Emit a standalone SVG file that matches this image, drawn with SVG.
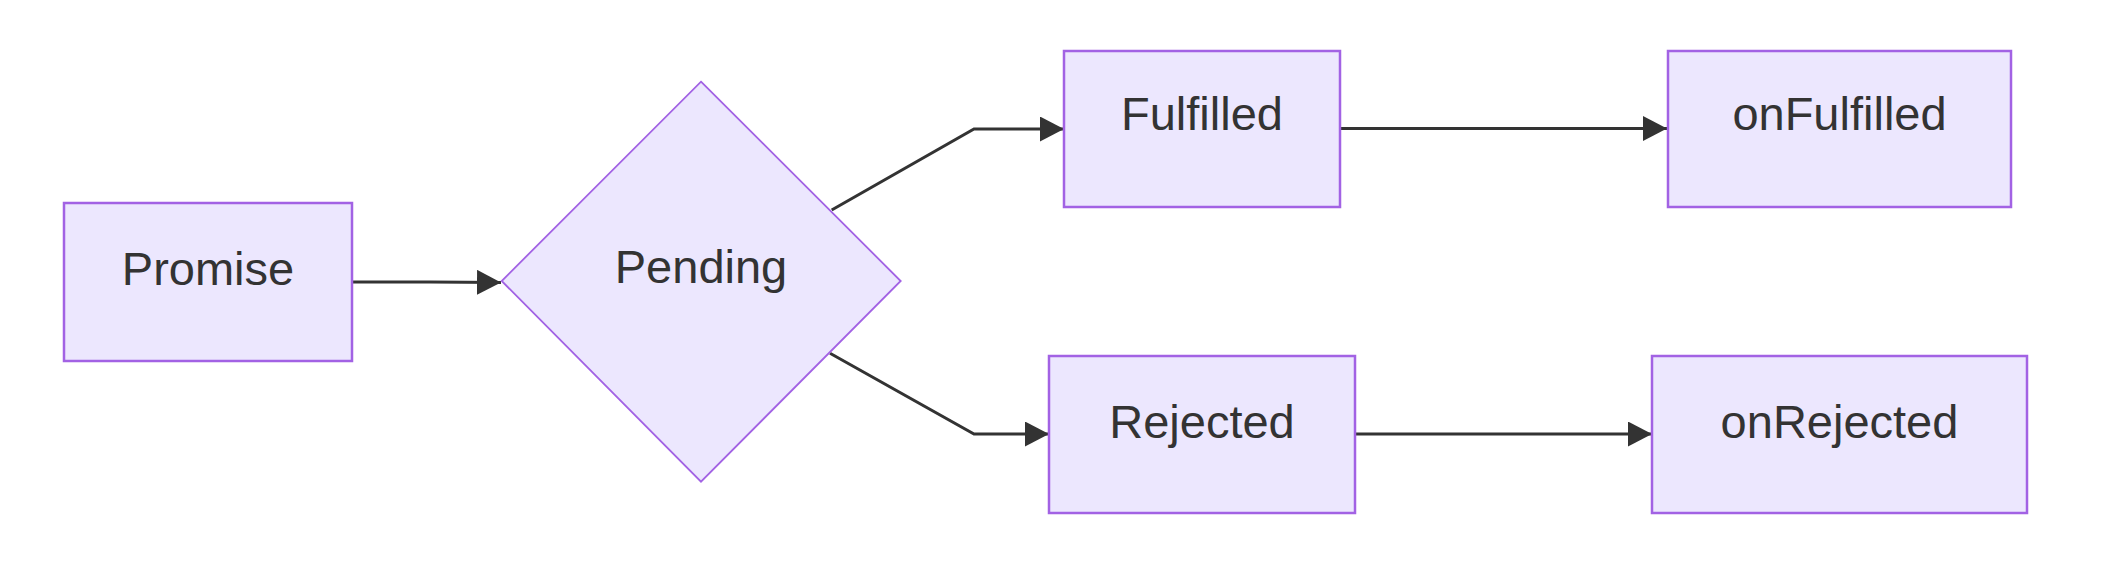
<svg xmlns="http://www.w3.org/2000/svg" width="2128" height="576" viewBox="0 0 2128 576">
<style>
.node rect, .node polygon { fill: #ECE7FE; stroke: #A262E4; }
.node rect { stroke-width: 2.5; }
.node polygon { stroke-width: 1.8; }
.node text { font-family: "Liberation Sans", Arial, sans-serif; font-size: 47px; fill: #333333; text-anchor: middle; }
.edge { fill: none; stroke: #333333; stroke-width: 3; marker-end: url(#arrow); }
</style>
<defs>
<marker id="arrow" markerUnits="userSpaceOnUse" markerWidth="26" markerHeight="26" refX="24" refY="12.5" orient="auto">
<path d="M0,0 L24,12.5 L0,25 z" fill="#333333"/>
</marker>
</defs>
<rect width="2128" height="576" fill="#ffffff"/>
<g id="connectors">
<path class="edge" d="M352,282 L430,282 L501,282.5"/>
<path class="edge" d="M831.7,210 L974,129 L1064,129"/>
<path class="edge" d="M830,353.3 L974,434 L1049,434"/>
<path class="edge" d="M1340,128.5 L1667,128.5"/>
<path class="edge" d="M1355,434 L1652,434"/>
</g>
<g id="node-promise" class="node">
<rect x="64" y="203" width="288" height="158"/>
<text x="208" y="285">Promise</text>
</g>
<g id="node-pending" class="node">
<polygon points="701,81.7 900.7,281 701,481.7 501.7,281"/>
<text x="701" y="283">Pending</text>
</g>
<g id="node-fulfilled" class="node">
<rect x="1064" y="51" width="276" height="156"/>
<text x="1202" y="130">Fulfilled</text>
</g>
<g id="node-onfulfilled" class="node">
<rect x="1668" y="51" width="343" height="156"/>
<text x="1839.5" y="130">onFulfilled</text>
</g>
<g id="node-rejected" class="node">
<rect x="1049" y="356" width="306" height="157"/>
<text x="1202" y="438">Rejected</text>
</g>
<g id="node-onrejected" class="node">
<rect x="1652" y="356" width="375" height="157"/>
<text x="1839.5" y="438">onRejected</text>
</g>
</svg>
